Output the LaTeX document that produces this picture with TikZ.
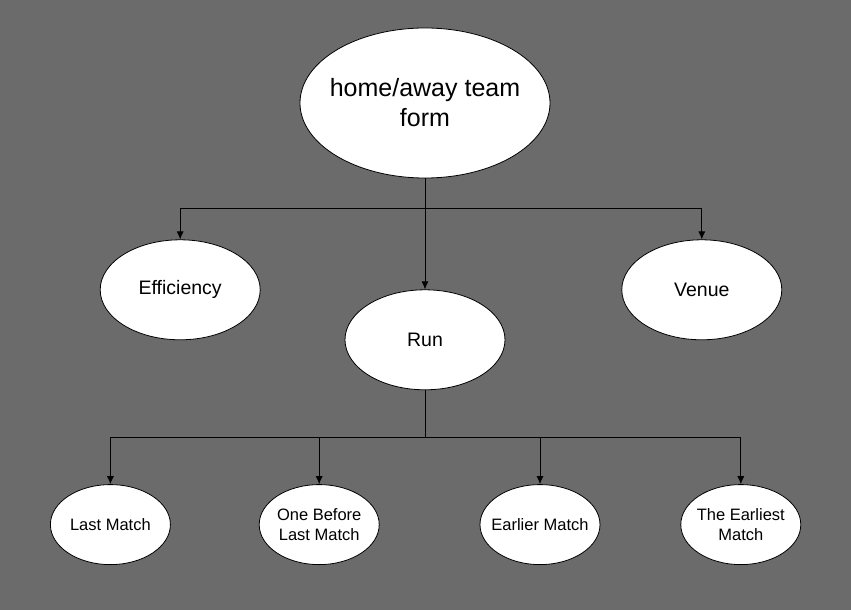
\documentclass[tikz,border=0pt]{standalone}
\usepackage{fontspec}
\setmainfont{Liberation Sans}
\usepackage{tikz}
\usetikzlibrary{shapes.geometric,positioning,arrows.meta}
\usetikzlibrary{backgrounds}
\definecolor{pagebg}{RGB}{107,107,107}
\tikzset{oval/.style={draw,ellipse,fill=white,line width=0.8pt,inner xsep=-12pt,inner ysep=0pt,align=center},
    link/.style={-{Latex[length=8pt,width=7pt]},line width=0.9pt}}

\begin{document}
\begin{tikzpicture}

\node[oval,
    minimum width=250pt,
    minimum height=150pt,
    font=\fontsize{25}{30}\selectfont
] (form) {home/away team\\form};

\node[oval,
    below=111pt of form,
    minimum width=160pt,
    minimum height=100pt,
    font=\fontsize{19.5}{23}\selectfont
] (run) {Run};

\node[oval,
    left=84pt of run,
    yshift=50pt,
    minimum width=160pt,
    minimum height=100pt,
    font=\fontsize{19.5}{23}\selectfont
] (eff) {Efficiency};

\node[oval,
    right=116pt of run,
    yshift=50pt,
    minimum width=160pt,
    minimum height=100pt,
    font=\fontsize{19.5}{23}\selectfont
] (venue) {Venue};

\node[oval,
    below=94pt of run,
    xshift=115pt,
    minimum width=120pt,
    minimum height=80pt,
    font=\fontsize{16.5}{20}\selectfont
] (earlier) {Earlier Match};

\node[oval,
    left=100pt of earlier,
    minimum width=120pt,
    minimum height=80pt,
    font=\fontsize{16.5}{20}\selectfont
] (onebefore) {One Before\\Last Match};

\node[oval,
    left=88pt of onebefore,
    minimum width=120pt,
    minimum height=80pt,
    font=\fontsize{16.5}{20}\selectfont
] (last) {Last Match};

\node[oval,
    right=80pt of earlier,
    minimum width=120pt,
    minimum height=80pt,
    font=\fontsize{16.5}{20}\selectfont
] (earliest) {The Earliest\\Match};

% Branch points
\coordinate (split1) at ([yshift=-30pt]form.south);
\coordinate (split2) at ([yshift=-47pt]run.south);

% Arrows
\draw[link] (form) -- (run);
\draw[line width=0.9pt] (form.south) -- (split1);
\draw[link] (split1) -| (eff);
\draw[link] (split1) -| (venue);

\draw[line width=0.9pt] (run.south) -- (split2);
\draw[link] (split2) -| (last);
\draw[link] (split2) -| (onebefore);
\draw[link] (split2) -| (earlier);
\draw[link] (split2) -| (earliest);

\begin{scope}[on background layer]
\fill[pagebg] ([xshift=-425pt,yshift=103pt]form.center) rectangle ([xshift=426pt,yshift=-507pt]form.center);
\end{scope}
\end{tikzpicture}
\end{document}
